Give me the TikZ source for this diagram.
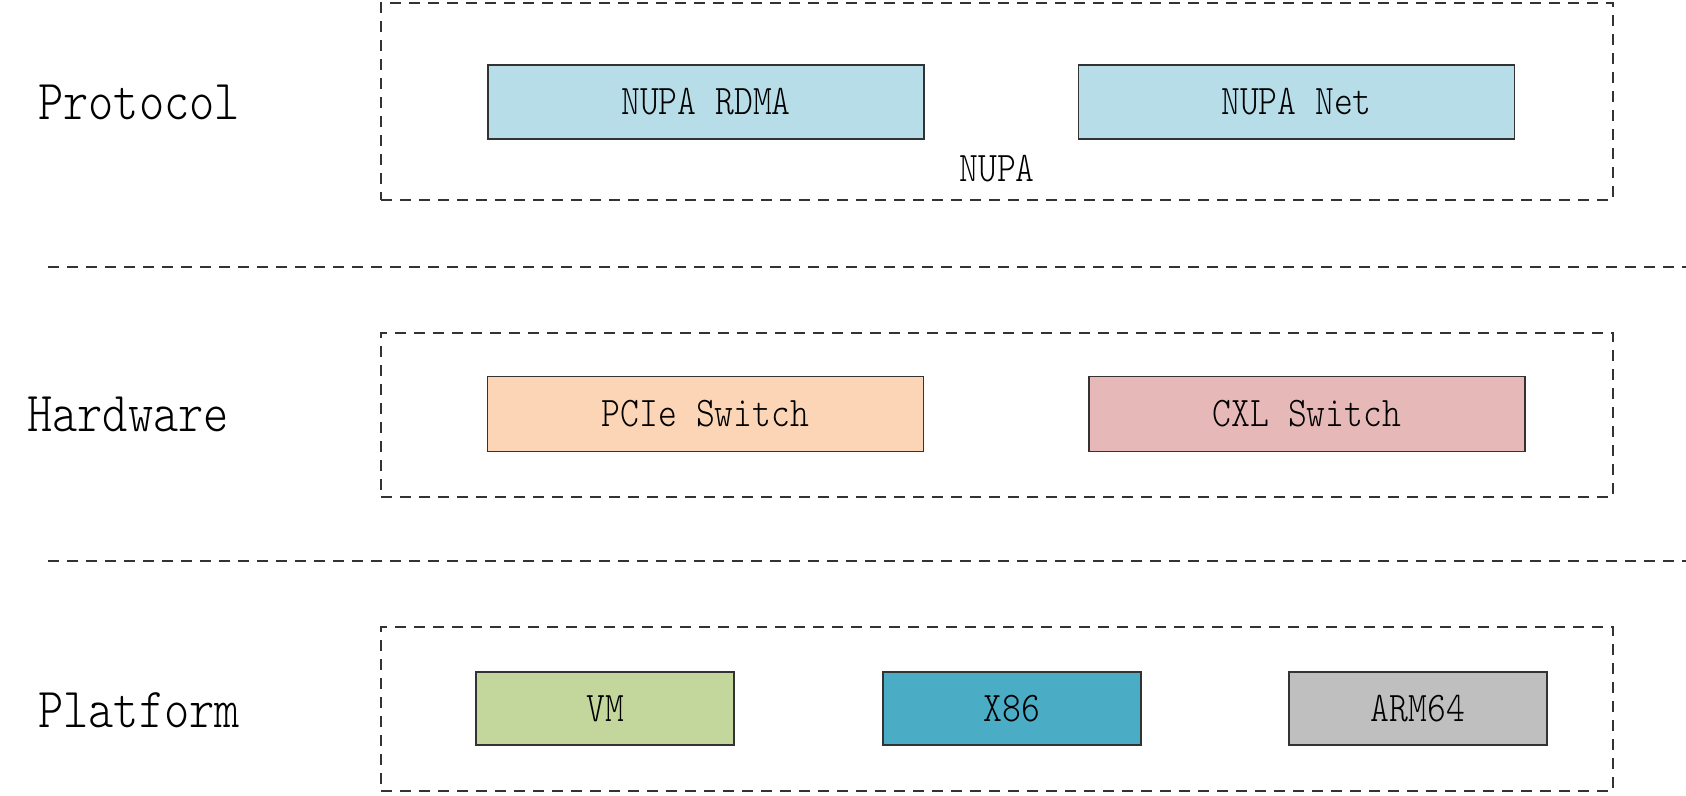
\documentclass[tikz,border=0pt]{standalone}
\usepackage{fontspec}
\newfontfamily\labfont{Latin Modern Mono Light}[FakeStretch=0.85]
\definecolor{nupablue}{HTML}{B7DDE8}
\definecolor{pciecol}{HTML}{FBD5B5}
\definecolor{cxlcol}{HTML}{E6B9B8}
\definecolor{vmcol}{HTML}{C3D69B}
\definecolor{x86col}{HTML}{4BACC6}
\definecolor{armcol}{HTML}{BFBFBF}
\definecolor{linecol}{HTML}{333333}
\begin{document}
\begin{tikzpicture}[x=1pt,y=-1pt,
  layerbox/.style={draw=linecol,line width=1.6pt,dash pattern=on 11pt off 8pt,
    rectangle,inner sep=0pt,minimum width=1232pt},
  compbox/.style={draw=linecol,line width=1.8pt,rectangle,inner sep=0pt,
    font=\labfont\fontsize{42.2}{46}\selectfont},
  wide/.style={compbox,minimum width=436pt,minimum height=75pt},
  narrow/.style={compbox,minimum width=258pt,minimum height=73pt},
  layerlabel/.style={anchor=west,inner sep=0pt,font=\labfont\fontsize{56.5}{60}\selectfont},
  sepline/.style={draw=linecol,line width=1.6pt,dash pattern=on 11pt off 8pt}]
\useasboundingbox (0,0) rectangle (1686,795);
\fill[white] (0,0) rectangle (1686,795);

% Protocol layer
\node[layerbox,minimum height=197pt] (protbox) at (997,101.5) {};
\node[wide,fill=nupablue,minimum height=74pt] (rdma) at (706,102) {NUPA RDMA};
\node[wide,fill=nupablue,minimum height=74pt] (net) at (1296.5,102) {NUPA Net};
\node[inner sep=0pt,font=\labfont\fontsize{42.2}{46}\selectfont] (nupa) at (997,169) {NUPA};
\node[layerlabel] (protlab) at (38,102) {Protocol};

% separator 1
\coordinate (s1a) at (48,267);
\coordinate (s1b) at (1686,267);
\draw[sepline] (s1a) -- (s1b);

% Hardware layer
\node[layerbox,minimum height=164pt] (hwbox) at (997,415) {};
\node[wide,fill=pciecol] (pcie) at (705.5,414) {PCIe Switch};
\node[wide,fill=cxlcol] (cxl) at (1307,414) {CXL Switch};
\node[layerlabel] (hwlab) at (27,414) {Hardware};

% separator 2
\coordinate (s2a) at (48,561);
\coordinate (s2b) at (1686,561);
\draw[sepline] (s2a) -- (s2b);

% Platform layer
\node[layerbox,minimum height=164pt] (platbox) at (997,709) {};
\node[narrow,fill=vmcol] (vm) at (605,708.5) {VM};
\node[narrow,fill=x86col] (x86) at (1012,708.5) {X86};
\node[narrow,fill=armcol] (arm) at (1418,708.5) {ARM64};
\node[layerlabel] (platlab) at (38,710) {Platform};
\end{tikzpicture}
\end{document}
